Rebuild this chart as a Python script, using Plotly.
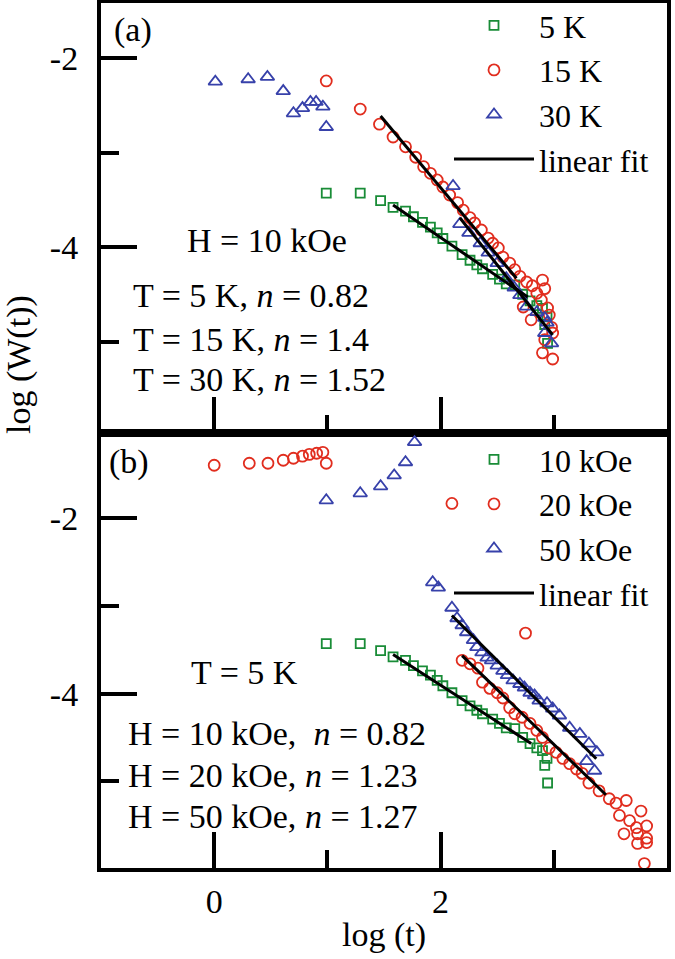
import plotly.graph_objects as go

# ---------------- data ----------------
# shared: T = 5 K, H = 10 kOe (squares, both panels)
sq_x = [0.99, 1.29, 1.47, 1.58, 1.69, 1.76, 1.84, 1.91, 1.97, 2.02, 2.10, 2.19, 2.26,
        2.32, 2.37, 2.46, 2.52, 2.58, 2.655, 2.725, 2.79, 2.85, 2.90, 2.94, 2.92, 2.945]
sq_y = [-3.43, -3.43, -3.51, -3.58, -3.62, -3.68, -3.74, -3.79, -3.85, -3.91, -3.99, -4.08, -4.14,
        -4.19, -4.23, -4.29, -4.34, -4.39, -4.40, -4.50, -4.57, -4.62, -4.65, -4.74, -4.82, -5.02]

# panel (a): 15 K circles
a15_x = [0.99, 1.29, 1.46, 1.58, 1.69, 1.78, 1.85, 1.91, 1.97, 2.02, 2.08, 2.15, 2.20, 2.26,
         2.30, 2.36, 2.42, 2.46, 2.51, 2.55, 2.61, 2.655, 2.70, 2.76, 2.81, 2.90, 2.92, 2.85,
         2.89, 2.945, 2.96, 2.73, 2.80, 2.98, 2.99, 2.90, 2.99, 2.92]
a15_y = [-2.243, -2.54, -2.70, -2.836, -2.94, -3.05, -3.15, -3.22, -3.29, -3.365, -3.45, -3.53,
         -3.61, -3.69, -3.746, -3.82, -3.905, -3.96, -4.01, -4.106, -4.17, -4.24, -4.31, -4.37,
         -4.41, -4.35, -4.44, -4.49, -4.56, -4.645, -4.72, -4.635, -4.77, -4.85, -4.91, -5.12,
         -5.185, -4.98]

# panel (a): 30 K triangles
a30_x = [0.01, 0.30, 0.47, 0.61, 0.70, 0.78, 0.85, 0.90, 0.96, 0.99, 2.11, 2.17, 2.25, 2.35,
         2.42, 2.50, 2.58, 2.65, 2.70, 2.76, 2.85, 2.92, 2.94, 2.92, 2.98]
a30_y = [-2.25, -2.225, -2.20, -2.35, -2.585, -2.53, -2.465, -2.465, -2.515, -2.73, -3.355,
         -3.757, -3.85, -3.96, -4.06, -4.17, -4.33, -4.43, -4.51, -4.63, -4.69, -4.75, -4.80,
         -4.91, -5.02]

# panel (b): 20 kOe circles
b20_x = [0.0, 0.31, 0.475, 0.61, 0.70, 0.78, 0.84, 0.905, 0.96, 0.99, 2.10, 2.75, 2.19, 2.26,
         2.33, 2.37, 2.435, 2.50, 2.55, 2.61, 2.655, 2.72, 2.79, 2.85, 2.90, 2.96, 3.02, 3.08,
         3.14, 3.20, 3.25, 3.31, 3.40, 3.49, 3.55, 3.64, 3.58, 3.67, 3.77, 3.73, 3.82, 3.62,
         3.74, 3.82, 3.74, 3.82, 3.80]
b20_y = [-1.394, -1.371, -1.371, -1.337, -1.314, -1.29, -1.27, -1.257, -1.246, -1.371, -1.83,
         -3.31, -3.62, -3.66, -3.71, -3.87, -3.94, -3.99, -4.05, -4.16, -4.23, -4.27, -4.34,
         -4.42, -4.50, -4.62, -4.67, -4.74, -4.80, -4.86, -4.91, -5.02, -5.11, -5.20, -5.25,
         -5.22, -5.39, -5.45, -5.34, -5.53, -5.51, -5.60, -5.60, -5.65, -5.71, -5.70, -5.94]

# panel (b): 50 kOe triangles
b50_x = [0.99, 1.29, 1.47, 1.59, 1.69, 1.77, 1.93, 1.98, 2.10, 2.145, 2.19, 2.23, 2.29, 2.32,
         2.365, 2.41, 2.45, 2.50, 2.55, 2.59, 2.64, 2.70, 2.74, 2.79, 2.83, 2.87, 2.94, 2.99,
         3.05, 3.14, 3.23, 3.31, 3.38, 3.29, 3.36]
b50_y = [-1.794, -1.714, -1.634, -1.51, -1.36, -1.13, -2.73, -2.79, -3.02, -3.14, -3.22, -3.30,
         -3.39, -3.47, -3.53, -3.59, -3.62, -3.68, -3.74, -3.79, -3.85, -3.89, -3.93, -3.99,
         -4.02, -4.08, -4.11, -4.17, -4.25, -4.39, -4.46, -4.57, -4.67, -4.77, -4.88]

# linear fits (end points)
fit_a_x = [[1.58, 2.77], [1.47, 2.67], [2.17, 2.99]]
fit_a_y = [[-3.556, -4.53], [-2.614, -4.33], [-3.69, -4.93]]
fit_b_x = [[1.58, 2.80], [2.19, 3.46], [2.10, 3.375]]
fit_b_y = [[-3.554, -4.57], [-3.566, -5.154], [-3.109, -4.743]]

legend_a = ["5 K", "15 K", "30 K"]
legend_b = ["10 kOe", "20 kOe", "50 kOe"]
fit_label = "linear fit"

text_a = ["H = 10 kOe", "T = 5 K, <i>n</i> = 0.82", "T = 15 K, <i>n</i> = 1.4",
          "T = 30 K, <i>n</i> = 1.52"]
text_b = ["T = 5 K", "H = 10 kOe,\u00a0 <i>n</i> = 0.82", "H = 20 kOe, <i>n</i> = 1.23",
          "H = 50 kOe, <i>n</i> = 1.27"]

x_ticks = [0, 2, 4]
x_minor = [1, 3]
y_ticks_a = [-2, -4]
y_ticks_b = [-2, -4, -6]
y_minor = [-3, -5]

# ---------------- styling ----------------
FONT = "Liberation Serif"
FS = 34
LFS = 32
GREEN = "rgb(25,140,55)"
RED = "rgb(225,45,30)"
BLUE = "rgb(55,65,170)"

W, H = 675, 959
L, R, T, B = 101, 8, 3, 91
PW, PH = W - L - R, H - T - B
split = 1 - (433 - T) / PH


def px(p):
    return (p - L) / PW


def py(p):
    return (H - B - p) / PH


fig = go.Figure()

series = [
    ("x", "y", "legend", legend_a, [(sq_x, sq_y), (a15_x, a15_y), (a30_x, a30_y)],
     fit_a_x, fit_a_y),
    ("x2", "y2", "legend2", legend_b, [(sq_x, sq_y), (b20_x, b20_y), (b50_x, b50_y)],
     fit_b_x, fit_b_y),
]
symbols = ["square-open", "circle-open", "triangle-up-open"]
sizes = [9, 11, 12]
colors = [GREEN, RED, BLUE]

for xa, ya, lg, names, data, fx, fy in series:
    for i, (xs, ys) in enumerate(data):
        fig.add_trace(go.Scatter(
            x=xs, y=ys, mode="markers", name=names[i], xaxis=xa, yaxis=ya, legend=lg,
            marker=dict(symbol=symbols[i], size=sizes[i], color=colors[i],
                        line=dict(width=1.8, color=colors[i]))))
    for j in range(3):
        fig.add_trace(go.Scatter(
            x=fx[j], y=fy[j], mode="lines", name=fit_label, xaxis=xa, yaxis=ya, legend=lg,
            showlegend=(j == 0), line=dict(color="black", width=3)))

axis_common = dict(showline=True, linewidth=4, linecolor="black", mirror=True,
                   ticks="inside", ticklen=36, tickwidth=4, tickcolor="black",
                   showgrid=False, zeroline=False,
                   tickfont=dict(family=FONT, size=FS, color="black"))

fig.update_layout(
    width=W, height=H, margin=dict(l=L, r=R, t=T, b=B, autoexpand=False),
    paper_bgcolor="white", plot_bgcolor="white",
    font=dict(family=FONT, size=FS, color="black"),
    xaxis=dict(axis_common, domain=[0, 1], range=[-1, 4], anchor="y",
               tickvals=x_ticks, showticklabels=False,
               minor=dict(tickvals=x_minor, ticks="inside", ticklen=18, tickwidth=4,
                          tickcolor="black")),
    yaxis=dict(axis_common, domain=[split, 1], range=[-5.968, -1.418], anchor="x",
               tickvals=y_ticks_a, ticktext=[f"-{abs(v)}" for v in y_ticks_a],
               ticklabelstandoff=12,
               minor=dict(tickvals=y_minor, ticks="inside", ticklen=18, tickwidth=4,
                          tickcolor="black")),
    xaxis2=dict(axis_common, domain=[0, 1], range=[-1, 4], anchor="y2",
                tickvals=x_ticks, ticktext=[str(v) for v in x_ticks],
                ticklabelstandoff=0,
                minor=dict(tickvals=x_minor, ticks="inside", ticklen=18, tickwidth=4,
                           tickcolor="black")),
    yaxis2=dict(axis_common, domain=[0, split], range=[-5.99, -1.026], anchor="x2",
                tickvals=y_ticks_b, ticktext=[f"-{abs(v)}" for v in y_ticks_b],
                ticklabelstandoff=12,
                minor=dict(tickvals=y_minor, ticks="inside", ticklen=18, tickwidth=4,
                           tickcolor="black")),
    legend=dict(x=px(449), y=py(-2), xanchor="left", yanchor="top",
                bgcolor="rgba(0,0,0,0)",
                font=dict(family=FONT, size=LFS), tracegroupgap=0, itemwidth=80),
    legend2=dict(x=px(449), y=py(432), xanchor="left", yanchor="top",
                 bgcolor="rgba(0,0,0,0)",
                 font=dict(family=FONT, size=LFS), tracegroupgap=0, itemwidth=80),
    showlegend=True,
)

ann = []


def add_text(text, x, y, **kw):
    d = dict(text=text, x=px(x), y=py(y), xref="paper", yref="paper", showarrow=False,
             xanchor="left", yanchor="middle", font=dict(family=FONT, size=FS, color="black"))
    d.update(kw)
    ann.append(d)


add_text("(a)", 112, 30)
add_text("(b)", 107, 462)
add_text(text_a[0], 185, 241)
for t, yy in zip(text_a[1:], [295, 339, 380]):
    add_text(t, 131, yy)
add_text(text_b[0], 189, 672)
for t, yy in zip(text_b[1:], [733, 775, 816]):
    add_text(t, 126, yy)
add_text("log (t)", 384, 935, xanchor="center")
add_text("log (W(t))", 19, 365, xanchor="center", textangle=-90)
fig.update_layout(annotations=ann)

fig.write_html("out.html", config={"displayModeBar": False},
               post_script="document.body.style.margin='0px';document.body.style.padding='0px';")
